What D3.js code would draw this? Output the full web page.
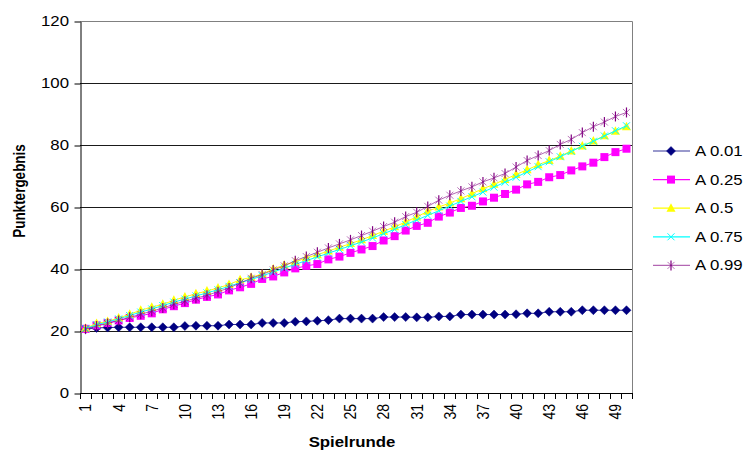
<!DOCTYPE html>
<html>
<head>
<meta charset="utf-8">
<script src="https://cdn.jsdelivr.net/npm/d3@7"></script>
<style>
  html, body { margin: 0; padding: 0; background: #fff; }
  svg { display: block; font-family: "Liberation Sans", Arial, sans-serif; }
</style>
</head>
<body>
<svg id="chart" width="750" height="453"></svg>
<script>
// ---- data ----
const rounds = d3.range(1, 51);
const xTickLabels = [1, 4, 7, 10, 13, 16, 19, 22, 25, 28, 31, 34, 37, 40, 43, 46, 49];
const yTicks = [0, 20, 40, 60, 80, 100, 120];
const seriesNames = ["A 0.01", "A 0.25", "A 0.5", "A 0.75", "A 0.99"];

const a001 = [20.6, 21.0, 21.1, 21.2, 21.2, 21.2, 21.2, 21.2, 21.2, 21.6,
              21.7, 21.7, 21.7, 22.1, 22.1, 22.1, 22.6, 22.6, 22.6, 23.0,
              23.1, 23.3, 23.5, 24.0, 24.0, 24.0, 24.0, 24.5, 24.5, 24.5,
              24.4, 24.4, 24.7, 24.7, 25.3, 25.3, 25.3, 25.3, 25.3, 25.4,
              25.7, 25.7, 26.2, 26.2, 26.2, 26.7, 26.7, 26.7, 26.7, 26.7];
const a025 = [20.7, 21.8, 22.6, 23.4, 24.2, 24.9, 25.7, 27.0, 28.0, 29.0,
              30.1, 31.0, 31.8, 33.1, 34.1, 35.2, 36.8, 37.6, 38.9, 40.2,
              41.0, 41.6, 43.1, 44.0, 45.2, 46.3, 47.4, 49.2, 50.6, 52.4,
              53.9, 54.9, 56.9, 58.2, 59.7, 60.4, 61.8, 63.0, 64.2, 65.6,
              67.3, 68.1, 69.6, 70.3, 71.8, 73.1, 74.3, 76.1, 77.7, 78.8];
const a05  = [20.9, 22.4, 23.1, 24.2, 25.4, 26.7, 27.7, 28.6, 29.9, 31.0,
              32.0, 32.9, 33.9, 35.0, 36.5, 37.3, 38.4, 40.0, 41.3, 42.3,
              43.6, 44.6, 45.8, 47.0, 48.2, 49.4, 50.8, 52.2, 53.6, 55.2,
              56.8, 58.6, 60.0, 61.3, 62.7, 64.3, 65.9, 67.3, 68.9, 70.5,
              72.0, 73.6, 75.0, 76.4, 78.1, 79.7, 81.3, 83.0, 84.4, 85.9];
const a075 = [20.8, 22.0, 22.9, 23.9, 25.0, 26.1, 27.1, 28.2, 29.3, 30.3,
              31.3, 32.3, 33.3, 34.4, 35.6, 36.6, 37.8, 39.0, 40.3, 41.5,
              42.7, 43.9, 45.1, 46.3, 47.5, 48.7, 50.0, 51.4, 52.8, 54.3,
              55.8, 57.3, 58.8, 60.3, 61.8, 63.3, 64.8, 66.4, 68.0, 69.6,
              71.3, 73.0, 74.6, 76.2, 77.9, 79.6, 81.2, 82.9, 84.6, 86.2];
const a099 = [20.6, 21.6, 22.4, 23.4, 24.4, 25.4, 26.4, 27.4, 28.6, 29.6,
              30.6, 31.5, 32.7, 33.9, 35.5, 37.0, 38.2, 39.7, 41.0, 42.7,
              44.0, 45.4, 46.8, 48.1, 49.4, 50.8, 52.2, 53.7, 55.1, 56.9,
              58.3, 60.2, 62.2, 63.8, 65.2, 66.5, 68.1, 69.4, 70.8, 72.9,
              75.0, 76.6, 78.2, 80.2, 81.8, 84.0, 85.9, 87.4, 89.2, 90.5];

// ---- layout ----
const svg = d3.select("#chart");
const plotL = 80, plotR = 632, plotT = 21, plotB = 393;
const stretch = 1.2; // text in the reference is stretched horizontally

const x = d3.scaleBand().domain(rounds).range([plotL, plotR]).padding(0);
const y = d3.scaleLinear().domain([0, 120]).range([plotB, plotT]);
const cx = d => x(d) + x.bandwidth() / 2;

// gridlines
svg.append("g").selectAll("line")
  .data(yTicks.filter(t => t > 0 && t < 120))
  .join("line")
  .attr("x1", plotL).attr("x2", plotR)
  .attr("y1", d => Math.round(y(d)) + 0.5).attr("y2", d => Math.round(y(d)) + 0.5)
  .attr("stroke", "#1a1a1a").attr("stroke-width", 1);

// plot border (top / right)
svg.append("path")
  .attr("d", `M${plotL},${plotT + 0.5}H${plotR + 0.5}V${plotB}`)
  .attr("fill", "none").attr("stroke", "#808080").attr("stroke-width", 1);

// y axis
const yAxis = svg.append("g")
  .attr("transform", `translate(${plotL + 0.5},0.5)`)
  .call(d3.axisLeft(y).tickValues(yTicks).tickSize(6).tickSizeOuter(0));
yAxis.select(".domain").attr("stroke", "#000");
yAxis.selectAll(".tick line").attr("stroke", "#000");
yAxis.selectAll(".tick text").attr("font-size", 14).attr("fill", "#000")
  .attr("font-family", "Liberation Sans, Arial, sans-serif")
  .attr("x", -11.5 / stretch)
  .attr("transform", `scale(${stretch},1)`);

// x axis line
svg.append("line")
  .attr("x1", plotL).attr("x2", plotR + 0.5)
  .attr("y1", plotB + 0.5).attr("y2", plotB + 0.5)
  .attr("stroke", "#000");
// boundary tick marks
const bounds = rounds.map(r => x(r)).concat([plotR]);
svg.append("g").selectAll("line").data(bounds).join("line")
  .attr("x1", d => Math.round(d) + 0.5).attr("x2", d => Math.round(d) + 0.5)
  .attr("y1", plotB).attr("y2", plotB + 6)
  .attr("stroke", "#000");
// x labels (rotated)
const xAxis = svg.append("g")
  .attr("transform", `translate(0,${plotB})`)
  .call(d3.axisBottom(x).tickValues(xTickLabels).tickSize(0).tickSizeOuter(0));
xAxis.select(".domain").remove();
xAxis.selectAll(".tick text")
  .attr("font-size", 14).attr("fill", "#000")
  .attr("font-family", "Liberation Sans, Arial, sans-serif")
  .attr("transform", `rotate(-90) scale(1,${stretch})`)
  .attr("text-anchor", "end")
  .attr("x", -11).attr("y", 0).attr("dy", "0.35em");

// axis titles
svg.append("text")
  .attr("transform", `translate(25,191) rotate(-90) scale(1,${stretch})`)
  .attr("text-anchor", "middle")
  .attr("font-size", 13.5).attr("font-weight", "bold")
  .text("Punktergebnis");
svg.append("text")
  .attr("transform", `translate(352,447) scale(${stretch},1)`)
  .attr("text-anchor", "middle")
  .attr("font-size", 14).attr("font-weight", "bold")
  .text("Spielrunde");

// marker painters
function drawMarker(g, kind, color) {
  if (kind === "diamond") {
    g.append("path").attr("d", "M0,-4.5L4.5,0L0,4.5L-4.5,0Z").attr("fill", color).attr("stroke", color).attr("stroke-width", 0.5);
  } else if (kind === "square") {
    g.append("rect").attr("x", -4).attr("y", -4).attr("width", 8).attr("height", 8).attr("fill", color);
  } else if (kind === "triangle") {
    g.append("path").attr("d", "M0,-5L4.5,3.5L-4.5,3.5Z").attr("fill", color);
  } else if (kind === "x") {
    g.append("path").attr("d", "M-3.5,-3.5L3.5,3.5M3.5,-3.5L-3.5,3.5").attr("stroke", color).attr("stroke-width", 1).attr("fill", "none");
  } else if (kind === "star") {
    g.append("path").attr("d", "M-3.5,-3.5L3.5,3.5M3.5,-3.5L-3.5,3.5").attr("stroke", color).attr("stroke-opacity", 0.55).attr("stroke-width", 1).attr("fill", "none");
    g.append("path").attr("d", "M0,-5L0,5").attr("stroke", color).attr("stroke-width", 1.2).attr("fill", "none");
  }
}

const series = [
  { name: seriesNames[0], values: a001, color: "#000080", marker: "diamond", lineOpacity: 0.8 },
  { name: seriesNames[1], values: a025, color: "#FF00FF", marker: "square", lineOpacity: 1 },
  { name: seriesNames[2], values: a05,  color: "#FFFF00", marker: "triangle", lineOpacity: 1 },
  { name: seriesNames[3], values: a075, color: "#00FFFF", marker: "x", lineOpacity: 1 },
  { name: seriesNames[4], values: a099, color: "#800080", marker: "star", lineOpacity: 0.6 }
];

const line = d3.line().x((d, i) => cx(rounds[i])).y(d => y(d));

series.forEach(s => {
  const g = svg.append("g");
  g.append("path").datum(s.values)
    .attr("d", line).attr("fill", "none")
    .attr("stroke", s.color).attr("stroke-width", 1).attr("stroke-opacity", s.lineOpacity);
  s.values.forEach((v, i) => {
    const m = g.append("g").attr("transform", `translate(${cx(rounds[i])},${y(v)})`);
    drawMarker(m, s.marker, s.color);
  });
});

// legend
const legend = svg.append("g");
series.forEach((s, i) => {
  const ly = 151 + i * 28.6;
  const row = legend.append("g");
  row.append("line").attr("x1", 653).attr("x2", 690).attr("y1", ly).attr("y2", ly)
    .attr("stroke", s.color).attr("stroke-width", 1.2).attr("stroke-opacity", s.lineOpacity);
  const m = row.append("g").attr("transform", `translate(671,${ly})`);
  drawMarker(m, s.marker, s.color);
  row.append("text")
    .attr("transform", `translate(695,${ly}) scale(${stretch},1)`)
    .attr("dy", "0.35em")
    .attr("font-size", 14).attr("fill", "#000").text(s.name);
});
</script>
</body>
</html>
